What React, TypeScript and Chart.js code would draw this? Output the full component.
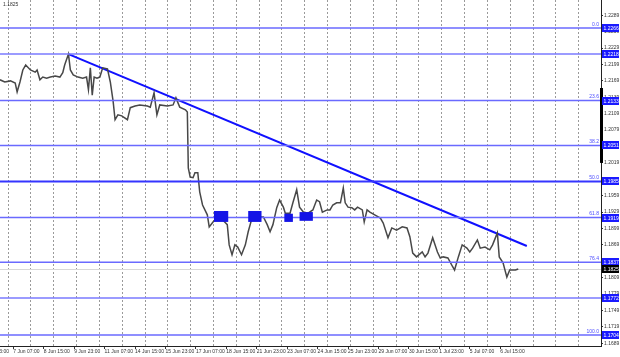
import React, { useEffect, useRef } from "react";
import { Chart, registerables } from "chart.js";

Chart.register(...registerables);

// ---- data ----
const priceBars = [0,5,11,16,18,21,24,27,32,37,39,42,45,49,53,58,63,66,68,72,74,77,82,87,91,93,95,97,99,102,105,108,113,116,119,121,124,128,134,137,142,147,155,158,162,165,168,176,182,185,189,195,197,198,200,203,205,208,210,213,218,220,224,229,234,239,241,244,247,250,254,258,261,265,270,277,281,284,287,291,294,298,300,305,308,312,315,319,324,329,333,336,339,344,347,350,354,358,361,363,366,370,373,376,381,383,386,389,394,400,403,408,412,417,423,428,431,434,438,444,447,450,455,460,463,466,471,476,478,482,486,491,494,497,502,505,510,515,518,523,525,529,533,536,542,545];
const priceValues = [1.2171,1.2167,1.2169,1.2165,1.2149,1.2167,1.2189,1.2198,1.2189,1.2185,1.2189,1.2171,1.2176,1.2174,1.2176,1.2178,1.2176,1.2184,1.2198,1.2218,1.2189,1.2180,1.2176,1.2174,1.2176,1.2153,1.2193,1.2143,1.2176,1.2174,1.2176,1.2193,1.2191,1.2167,1.2131,1.2098,1.2107,1.2105,1.2098,1.2120,1.2123,1.2125,1.2123,1.2121,1.2147,1.2107,1.2125,1.2123,1.2125,1.2138,1.2121,1.2116,1.2112,1.2010,1.1993,1.1992,1.2001,1.2001,1.1966,1.1942,1.1924,1.1902,1.1911,1.1920,1.1915,1.1906,1.1869,1.1851,1.1869,1.1865,1.1851,1.1869,1.1893,1.1918,1.1920,1.1920,1.1906,1.1893,1.1906,1.1937,1.1951,1.1938,1.1927,1.1927,1.1946,1.1970,1.1938,1.1929,1.1927,1.1933,1.1951,1.1948,1.1929,1.1933,1.1933,1.1942,1.1946,1.1946,1.1973,1.1946,1.1938,1.1937,1.1933,1.1938,1.1933,1.1911,1.1933,1.1929,1.1924,1.1918,1.1909,1.1882,1.1900,1.1896,1.1902,1.1900,1.1884,1.1854,1.1847,1.1856,1.1847,1.1854,1.1882,1.1856,1.1845,1.1847,1.1845,1.1829,1.1823,1.1847,1.1869,1.1863,1.1856,1.1863,1.1878,1.1863,1.1865,1.1860,1.1869,1.1891,1.1847,1.1836,1.1810,1.1823,1.1823,1.1825];

const trendBars = [72, 554];
const trendValues = [1.2218, 1.1867];

const fibValues = [1.2266, 1.2133, 1.2051, 1.1985, 1.1919, 1.1837, 1.1704];
const fibLabels = ["0.0", "23.6", "38.2", "50.0", "61.8", "76.4", "100.0"];
const levelValues = [1.2218, 1.1772];
const currentPrice = 1.1825;
const symbolText = "1.1825";

const yTickValues = [1.1689,1.1719,1.1749,1.1779,1.1809,1.1839,1.1869,1.1899,1.1929,1.1959,1.1989,1.2019,1.2049,1.2079,1.2109,1.2139,1.2169,1.2199,1.2229,1.2259,1.2289];
const xTickBars = [-18,14,46,78,110,142,174,206,238,270,302,334,366,398,430,462,494,526];
const xTickLabels = ["4 Jun 23:00","7 Jun 07:00","8 Jun 15:00","9 Jun 23:00","11 Jun 07:00","14 Jun 15:00","15 Jun 23:00","17 Jun 07:00","18 Jun 15:00","21 Jun 23:00","23 Jun 07:00","24 Jun 15:00","25 Jun 23:00","29 Jun 07:00","30 Jun 15:00","1 Jul 23:00","5 Jul 07:00","6 Jul 15:00"];
const dayGridBars = [8,32,56,80,104,128,152,176,200,224,248,272,296,320,344,368,392,416,440,464,488,512,536,560,584,608];

const boxBarStarts = [225, 261, 299, 315];
const boxBarEnds = [240, 275, 308, 329];
const boxTops = [1.1931, 1.1931, 1.1926, 1.1929];
const boxBottoms = [1.1911, 1.1911, 1.1911, 1.1913];

const scrollTop = 1.2156;
const scrollBottom = 1.2019;

const X_MIN = 0;
const X_MAX = 632;
const Y_MIN = 1.1684;
const Y_MAX = 1.2317;

const FONT = "Liberation Sans";

const overlayPlugin = {
  id: "overlay",
  beforeDatasetsDraw(chart: any) {
    const { ctx, chartArea, scales } = chart;
    const xs = scales.x;
    ctx.save();
    ctx.strokeStyle = "#9a9a9a";
    ctx.lineWidth = 1;
    ctx.setLineDash([2, 2]);
    dayGridBars.forEach((b) => {
      const px = Math.round(xs.getPixelForValue(b)) + 0.5;
      ctx.beginPath();
      ctx.moveTo(px, chartArea.top);
      ctx.lineTo(px, chartArea.bottom);
      ctx.stroke();
    });
    ctx.setLineDash([]);
    const yc = Math.round(scales.y.getPixelForValue(currentPrice)) + 0.5;
    ctx.strokeStyle = "#d8d8d8";
    ctx.beginPath();
    ctx.moveTo(chartArea.left, yc);
    ctx.lineTo(chartArea.right, yc);
    ctx.stroke();
    ctx.restore();
  },
  afterDatasetsDraw(chart: any) {
    const { ctx, chartArea, scales } = chart;
    const xs = scales.x;
    const ys = scales.y;
    ctx.save();
    ctx.fillStyle = "#1414e6";
    boxBarStarts.forEach((s, i) => {
      const x1 = xs.getPixelForValue(s);
      const x2 = xs.getPixelForValue(boxBarEnds[i]);
      const y1 = ys.getPixelForValue(boxTops[i]);
      const y2 = ys.getPixelForValue(boxBottoms[i]);
      ctx.fillRect(x1, y1, x2 - x1, y2 - y1);
    });
    ctx.font = `5px ${FONT}`;
    ctx.fillStyle = "#4a4aff";
    ctx.textAlign = "right";
    ctx.textBaseline = "bottom";
    fibValues.forEach((v, i) => {
      const y = ys.getPixelForValue(v);
      ctx.fillText(fibLabels[i], chartArea.right - 2, y - 1);
    });
    ctx.fillStyle = "#333";
    ctx.textAlign = "left";
    ctx.textBaseline = "top";
    ctx.fillText(symbolText, 3, 2);
    ctx.restore();
  },
  afterDraw(chart: any) {
    const { ctx, chartArea, scales } = chart;
    const ys = scales.y;
    ctx.save();
    ctx.fillStyle = "#000";
    const st = ys.getPixelForValue(scrollTop);
    const sb = ys.getPixelForValue(scrollBottom);
    ctx.fillRect(chartArea.right - 1, st, 3, sb - st);
    ctx.font = `5px ${FONT}`;
    ctx.textAlign = "left";
    ctx.textBaseline = "middle";
    const allLevels = [...fibValues, ...levelValues];
    allLevels.forEach((v) => {
      const y = Math.round(ys.getPixelForValue(v));
      ctx.fillStyle = "#1a1aff";
      ctx.fillRect(chartArea.right + 1, y - 4, 17, 8);
      ctx.fillStyle = "#ffffff";
      ctx.fillText(v.toFixed(4), chartArea.right + 2.5, y + 0.5);
    });
    const yc = Math.round(ys.getPixelForValue(currentPrice));
    ctx.fillStyle = "#000000";
    ctx.fillRect(chartArea.right + 1, yc - 4, 17, 8);
    ctx.fillStyle = "#ffffff";
    ctx.fillText(currentPrice.toFixed(4), chartArea.right + 2.5, yc + 0.5);
    ctx.restore();
  },
};

function hLine(v: number, color: string, width: number) {
  return {
    type: "line" as const,
    data: [
      { x: X_MIN, y: v },
      { x: X_MAX, y: v },
    ],
    borderColor: color,
    borderWidth: width,
    pointRadius: 0,
    tension: 0,
  };
}

export default function App() {
  const ref = useRef<HTMLCanvasElement>(null);
  useEffect(() => {
    if (!ref.current) return;
    const priceData = priceBars.map((b, i) => ({ x: b, y: priceValues[i] }));
    const trendData = trendBars.map((b, i) => ({ x: b, y: trendValues[i] }));
    const datasets: any[] = [];
    fibValues.forEach((v, i) => {
      datasets.push(hLine(v, i === 3 ? "#3535ff" : "#6a6aff", i === 3 ? 2 : 1.5));
    });
    levelValues.forEach((v) => datasets.push(hLine(v, "#7a7aff", 1.5)));
    datasets.push({
      type: "line",
      data: priceData,
      borderColor: "#484848",
      borderWidth: 1.5,
      pointRadius: 0,
      tension: 0,
    });
    datasets.push({
      type: "line",
      data: trendData,
      borderColor: "#1010ff",
      borderWidth: 2,
      pointRadius: 0,
      tension: 0,
    });
    const chart = new Chart(ref.current, {
      type: "line",
      data: { datasets },
      plugins: [overlayPlugin],
      options: {
        animation: false,
        responsive: false,
        parsing: false,
        normalized: true,
        layout: { padding: 0 },
        plugins: { legend: { display: false }, tooltip: { enabled: false } },
        scales: {
          x: {
            type: "linear",
            position: "bottom",
            min: X_MIN,
            max: X_MAX,
            afterBuildTicks: (scale: any) => {
              scale.ticks = xTickBars.map((v) => ({ value: v }));
            },
            afterFit: (scale: any) => {
              scale.height = 11;
              scale.paddingLeft = 0;
              scale.paddingRight = 0;
              scale.paddingTop = 0;
              scale.paddingBottom = 0;
            },
            ticks: {
              autoSkip: false,
              maxRotation: 0,
              minRotation: 0,
              align: "start",
              padding: 0,
              color: "#333",
              font: { family: FONT, size: 5 },
              callback: (_v: any, i: number) => xTickLabels[i],
            },
            grid: { drawOnChartArea: false, tickLength: 3, color: "#333" },
            border: { display: true, color: "#222", width: 1 },
          },
          y: {
            type: "linear",
            position: "right",
            min: Y_MIN,
            max: Y_MAX,
            afterBuildTicks: (scale: any) => {
              scale.ticks = yTickValues.map((v) => ({ value: v }));
            },
            afterFit: (scale: any) => {
              scale.width = 19;
              scale.paddingLeft = 0;
              scale.paddingRight = 0;
              scale.paddingTop = 0;
              scale.paddingBottom = 0;
            },
            ticks: {
              padding: 1,
              color: "#333",
              font: { family: FONT, size: 5 },
              callback: (v: any) => Number(v).toFixed(4),
            },
            grid: { drawOnChartArea: false, tickLength: 2, color: "#333" },
            border: { display: true, color: "#222", width: 1 },
          },
        },
      } as any,
    });
    return () => chart.destroy();
  }, []);
  return (
    <div style={{ position: "fixed", left: 0, top: 0, width: 620, height: 357, background: "#fff" }}>
      <canvas ref={ref} width={620} height={357} style={{ display: "block" }} />
    </div>
  );
}
